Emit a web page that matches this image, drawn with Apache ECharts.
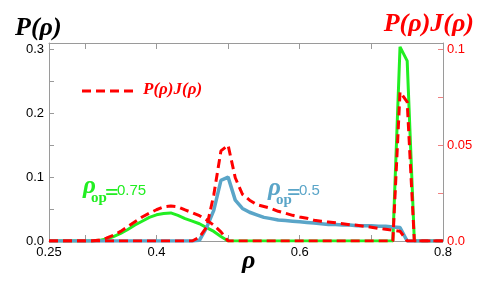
<!DOCTYPE html>
<html><head><meta charset="utf-8">
<script src="https://cdn.jsdelivr.net/npm/echarts@6/dist/echarts.min.js"></script>
<style>html,body{margin:0;padding:0;background:#fff}#c{width:491px;height:288px}</style>
</head><body><div id="c"></div>
<script>
const rho = [0.25,0.26,0.27,0.28,0.29,0.30,0.31,0.32,0.33,0.34,0.35,0.36,0.37,0.38,0.39,0.40,0.41,0.42,0.43,0.44,0.45,0.46,0.47,0.48,0.49,0.50,0.51,0.52,0.53,0.54,0.55,0.56,0.57,0.58,0.59,0.60,0.61,0.62,0.63,0.64,0.65,0.66,0.67,0.68,0.69,0.70,0.71,0.72,0.73,0.74,0.75,0.76,0.77,0.78,0.79,0.80];
// P(rho), rho_op = 0.75 (green)
const P075 = [0,0,0,0,0,0,0,0.001,0.003,0.007,0.012,0.018,0.025,0.031,0.037,0.041,0.043,0.044,0.040,0.035,0.031,0.027,0.021,0.015,0.007,0,0,0,0,0,0,0,0,0,0,0,0,0,0,0,0,0,0,0,0,0,0,0,0,0.304,0.282,0,0,0,0,0];
// P(rho), rho_op = 0.5 (blue)
const P05 = [0,0,0,0,0,0,0,0,0,0,0,0,0,0,0,0,0,0,0,0,0,0.001,0.021,0.048,0.095,0.100,0.064,0.051,0.045,0.041,0.037,0.035,0.033,0.032,0.031,0.030,0.029,0.028,0.027,0.026,0.026,0.025,0.025,0.024,0.024,0.024,0.023,0.023,0.022,0.021,0,0,0,0,0,0];
// P(rho)J(rho), rho_op = 0.75 (red dashed, right axis)
const PJ075 = [0,0,0,0,0,0,0,0.0005,0.0015,0.003,0.005,0.0075,0.010,0.0125,0.0145,0.0163,0.0178,0.0183,0.0178,0.0162,0.0148,0.0132,0.011,0.0082,0.0048,0,0,0,0,0,0,0,0,0,0,0,0,0,0,0,0,0,0,0,0,0,0,0,0,0.0778,0.0726,0,0,0,0,0];
// P(rho)J(rho), rho_op = 0.5 (red dashed, right axis)
const PJ05 = [0,0,0,0,0,0,0,0,0,0,0,0,0,0,0,0,0,0,0,0,0,0.002,0.0072,0.024,0.047,0.050,0.033,0.0244,0.0213,0.019,0.018,0.017,0.0155,0.0145,0.0134,0.0125,0.0119,0.0108,0.0103,0.0099,0.0095,0.0090,0.0085,0.0082,0.0077,0.0072,0.0066,0.0061,0.0056,0.0051,0,0,0,0,0,0];

const xTicks = [0.3,0.4,0.5,0.6,0.7];
const xLabels = [0.25,0.4,0.6,0.8];
const yLeftLabels = [0,0.1,0.2,0.3];
const yLeftTicks = [0,0.05,0.1,0.15,0.2,0.25,0.3];
const yRightLabels = [0,0.05,0.1];
const yRightTicks = [0,0.025,0.05,0.075,0.1];

const pairs = arr => rho.map((r,i)=>[r,arr[i]]);
const GREEN = '#22ee22', BLUE = '#5aa5c8', RED = '#ff0000', GRAY = '#9a9a9a';
const serifBI = {fontFamily:'Liberation Serif', fontStyle:'italic', fontWeight:'bold'};

const chart = echarts.init(document.getElementById('c'), null, {renderer:'canvas'});
const xBase = {type:'value', min:0.25, max:0.8, interval:0.05, splitLine:{show:false},
  axisLine:{onZero:false,lineStyle:{color:GRAY,width:1}},
  axisTick:{inside:true,length:6,customValues:xTicks,lineStyle:{color:GRAY}}};
chart.setOption({
  animation:false,
  grid:{left:49,right:48,top:43,bottom:47},
  xAxis:[
    Object.assign({}, xBase, {position:'bottom',
      axisLabel:{customValues:xLabels,color:'#000',fontSize:13,fontFamily:'Liberation Sans',margin:5,
        formatter:v=>String(+v.toFixed(2))}}),
    Object.assign({}, xBase, {position:'top', axisLabel:{show:false}})
  ],
  yAxis:[
    {type:'value',min:0,max:0.31,position:'left',splitLine:{show:false},
     axisLine:{show:true,onZero:false,lineStyle:{color:GRAY}},
     axisTick:{show:true,inside:true,length:5,customValues:yLeftTicks,lineStyle:{color:GRAY}},
     axisLabel:{customValues:yLeftLabels,color:'#000',fontSize:13,fontFamily:'Liberation Sans',margin:5,
       formatter:v=>v.toFixed(1)}},
    {type:'value',min:0,max:0.31/3,position:'right',splitLine:{show:false},
     axisLine:{show:true,onZero:false,lineStyle:{color:GRAY}},
     axisTick:{show:true,inside:true,length:5,customValues:yRightTicks,lineStyle:{color:'#f08080'}},
     axisLabel:{customValues:yRightLabels,color:RED,fontSize:13,fontFamily:'Liberation Sans',margin:4,
       formatter:v=>v===0?'0.0':String(+v.toFixed(3))}}
  ],
  series:[
    {name:'P075',type:'line',xAxisIndex:0,yAxisIndex:0,data:pairs(P075),symbol:'none',
     lineStyle:{color:GREEN,width:3},z:2},
    {name:'P05',type:'line',xAxisIndex:0,yAxisIndex:0,data:pairs(P05),symbol:'none',
     lineStyle:{color:BLUE,width:3.5},z:3},
    {name:'P(ρ)J(ρ)',type:'line',xAxisIndex:0,yAxisIndex:1,data:pairs(PJ075),symbol:'none',
     itemStyle:{color:RED},lineStyle:{color:RED,width:3,type:[9,5]},z:4},
    {name:'P(ρ)J(ρ)',type:'line',xAxisIndex:0,yAxisIndex:1,data:pairs(PJ05),symbol:'none',
     itemStyle:{color:RED},lineStyle:{color:RED,width:3,type:[9,5]},z:4}
  ],
  graphic:[
    // legend
    {type:'line',shape:{x1:82,y1:91,x2:138,y2:91},style:{stroke:RED,lineWidth:3,lineDash:[9,5]}},
    {type:'text',left:143,top:81,style:Object.assign({text:'P(ρ)J(ρ)',fill:RED,fontSize:17},serifBI)},
    // axis titles
    {type:'text',left:15,top:15,style:Object.assign({text:'P(ρ)',fill:'#000',fontSize:26},serifBI)},
    {type:'text',right:17,top:11,style:Object.assign({text:'P(ρ)J(ρ)',fill:RED,fontSize:26},serifBI)},
    {type:'text',left:242,top:248,style:Object.assign({text:'ρ',fill:'#000',fontSize:26},serifBI)},
    // rho_op = 0.75 annotation
    {type:'text',left:83,top:174,style:Object.assign({text:'ρ',fill:GREEN,fontSize:25},serifBI)},
    {type:'text',left:91,top:191,style:{text:'op',fill:GREEN,fontSize:15,fontFamily:'Liberation Serif',fontWeight:'bold'}},
    {type:'text',left:105,top:182,style:{text:'=',fill:GREEN,fontSize:24,fontFamily:'Liberation Serif',fontWeight:'bold'}},
    {type:'text',left:117,top:183,style:{text:'0.75',fill:GREEN,fontSize:15,fontFamily:'Liberation Sans'}},
    // rho_op = 0.5 annotation
    {type:'text',left:268,top:176,style:Object.assign({text:'ρ',fill:BLUE,fontSize:25},serifBI)},
    {type:'text',left:276,top:193,style:{text:'op',fill:BLUE,fontSize:15,fontFamily:'Liberation Serif',fontWeight:'bold'}},
    {type:'text',left:287,top:182,style:{text:'=',fill:BLUE,fontSize:24,fontFamily:'Liberation Serif',fontWeight:'bold'}},
    {type:'text',left:299,top:183,style:{text:'0.5',fill:BLUE,fontSize:15,fontFamily:'Liberation Sans'}}
  ]
});
</script></body></html>
